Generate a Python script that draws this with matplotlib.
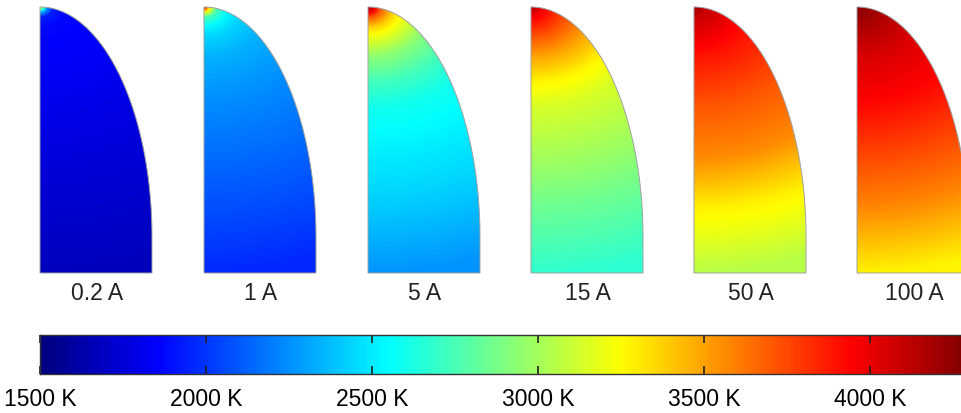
#!/usr/bin/env python3
"""Cathode tip temperature fields for six arc currents, with a shared colour scale."""

import matplotlib
matplotlib.use('Agg')
import matplotlib.pyplot as plt
from matplotlib.colors import LinearSegmentedColormap
from matplotlib.patches import Polygon
import numpy as np

plt.rcParams.update({
    'font.family': ['Liberation Sans', 'DejaVu Sans'],
    'font.size': 16,
    'text.color': '#222222',
})

# Arc currents and tip temperature profiles (K) against depth from the tip apex
currents = ['0.2 A', '1 A', '5 A', '15 A', '50 A', '100 A']
depth_px = [0, 5, 10, 20, 30, 50, 75, 100, 150, 200, 266]
T_02A = [3200, 2300, 1930, 1870, 1860, 1845, 1830, 1800, 1760, 1720, 1670]
T_1A = [3950, 3200, 2750, 2520, 2430, 2340, 2280, 2230, 2150, 2070, 1960]
T_5A = [4200, 3980, 3700, 3380, 3200, 2930, 2730, 2600, 2500, 2410, 2260]
T_15A = [4150, 4050, 3960, 3830, 3710, 3495, 3270, 3140, 3000, 2850, 2680]
T_50A = [4200, 4150, 4090, 4040, 3990, 3890, 3800, 3710, 3570, 3290, 3050]
T_100A = [4260, 4240, 4220, 4170, 4130, 4050, 3990, 3920, 3750, 3580, 3280]
profiles = [T_02A, T_1A, T_5A, T_15A, T_50A, T_100A]

# Colour scale
T_min, T_max = 1500, 4300
cbar_ticks = [1500, 2000, 2500, 3000, 3500, 4000]
cbar_labels = ['1500 K', '2000 K', '2500 K', '3000 K', '3500 K', '4000 K']

# MATLAB-style jet
jet = LinearSegmentedColormap.from_list('jet_ml', [
    (0.0, (0, 0, 0.5)), (0.125, (0, 0, 1)), (0.375, (0, 1, 1)),
    (0.625, (1, 1, 0)), (0.875, (1, 0, 0)), (1.0, (0.5, 0, 0))])

W, H = 962, 413
fig = plt.figure(figsize=(W / 100, H / 100), dpi=100)

# Tip geometry in pixel-like units: radius 112, height 266, cylindrical part 36
R, Ht, Hs = 112.0, 266.0, 36.0
b = Ht - Hs
theta = np.linspace(0, np.pi / 2, 200)
arc_r = R * np.cos(theta)
arc_z = Hs + b * np.sin(theta)
outline = np.column_stack([
    np.concatenate([[0, R], arc_r, [0]]),
    np.concatenate([[0, 0], arc_z, [Ht]])])

rr, zz = np.meshgrid(np.linspace(0, R, 224), np.linspace(0, Ht, 532))
dist = np.sqrt((0.8 * rr) ** 2 + (Ht - zz) ** 2)

lefts = [40, 204, 368, 531, 694, 857]
top_px, bot_px = 7, 273

for left, label, prof in zip(lefts, currents, profiles):
    ax = fig.add_axes([left / W, (H - bot_px) / H, R / W, (bot_px - top_px) / H])
    field = np.interp(dist, depth_px, prof)
    im = ax.imshow(field, origin='lower', extent=(0, R, 0, Ht), cmap=jet,
                   vmin=T_min, vmax=T_max, interpolation='bilinear', aspect='auto')
    clip = Polygon(outline, closed=True, transform=ax.transData)
    im.set_clip_path(clip)
    ax.add_patch(Polygon(outline, closed=True, fill=False,
                         edgecolor='#a0a0a0', lw=0.7, clip_on=False))
    ax.set_xlim(0, R)
    ax.set_ylim(0, Ht)
    ax.axis('off')
    fig.text((left + 57) / W, 1 - 293 / H, label, ha='center', va='center', fontsize=16.5)

# Horizontal colour bar running off the right edge
cb_top, cb_bot = 335, 374
cax = fig.add_axes([40 / W, (H - cb_bot) / H, (W - 40) / W, (cb_bot - cb_top) / H])
grad = np.linspace(T_min, T_max, 600)[None, :]
cax.imshow(grad, extent=(T_min, T_max, 0, 1), cmap=jet, vmin=T_min, vmax=T_max,
           aspect='auto', interpolation='bilinear')
cax.set_xlim(T_min, 4277)
cax.set_ylim(0, 1)
cax.set_yticks([])
cax.set_xticks(cbar_ticks)
cax.set_xticklabels(cbar_labels)
cax.tick_params(axis='x', direction='in', top=True, length=6, width=1.2,
                color='#222222', labelsize=16.5, pad=10)
for side in ['left', 'top', 'bottom']:
    cax.spines[side].set_color('#333333')
    cax.spines[side].set_linewidth(1)
cax.spines['right'].set_visible(False)

fig.savefig('out.png', dpi=100, facecolor='white')
